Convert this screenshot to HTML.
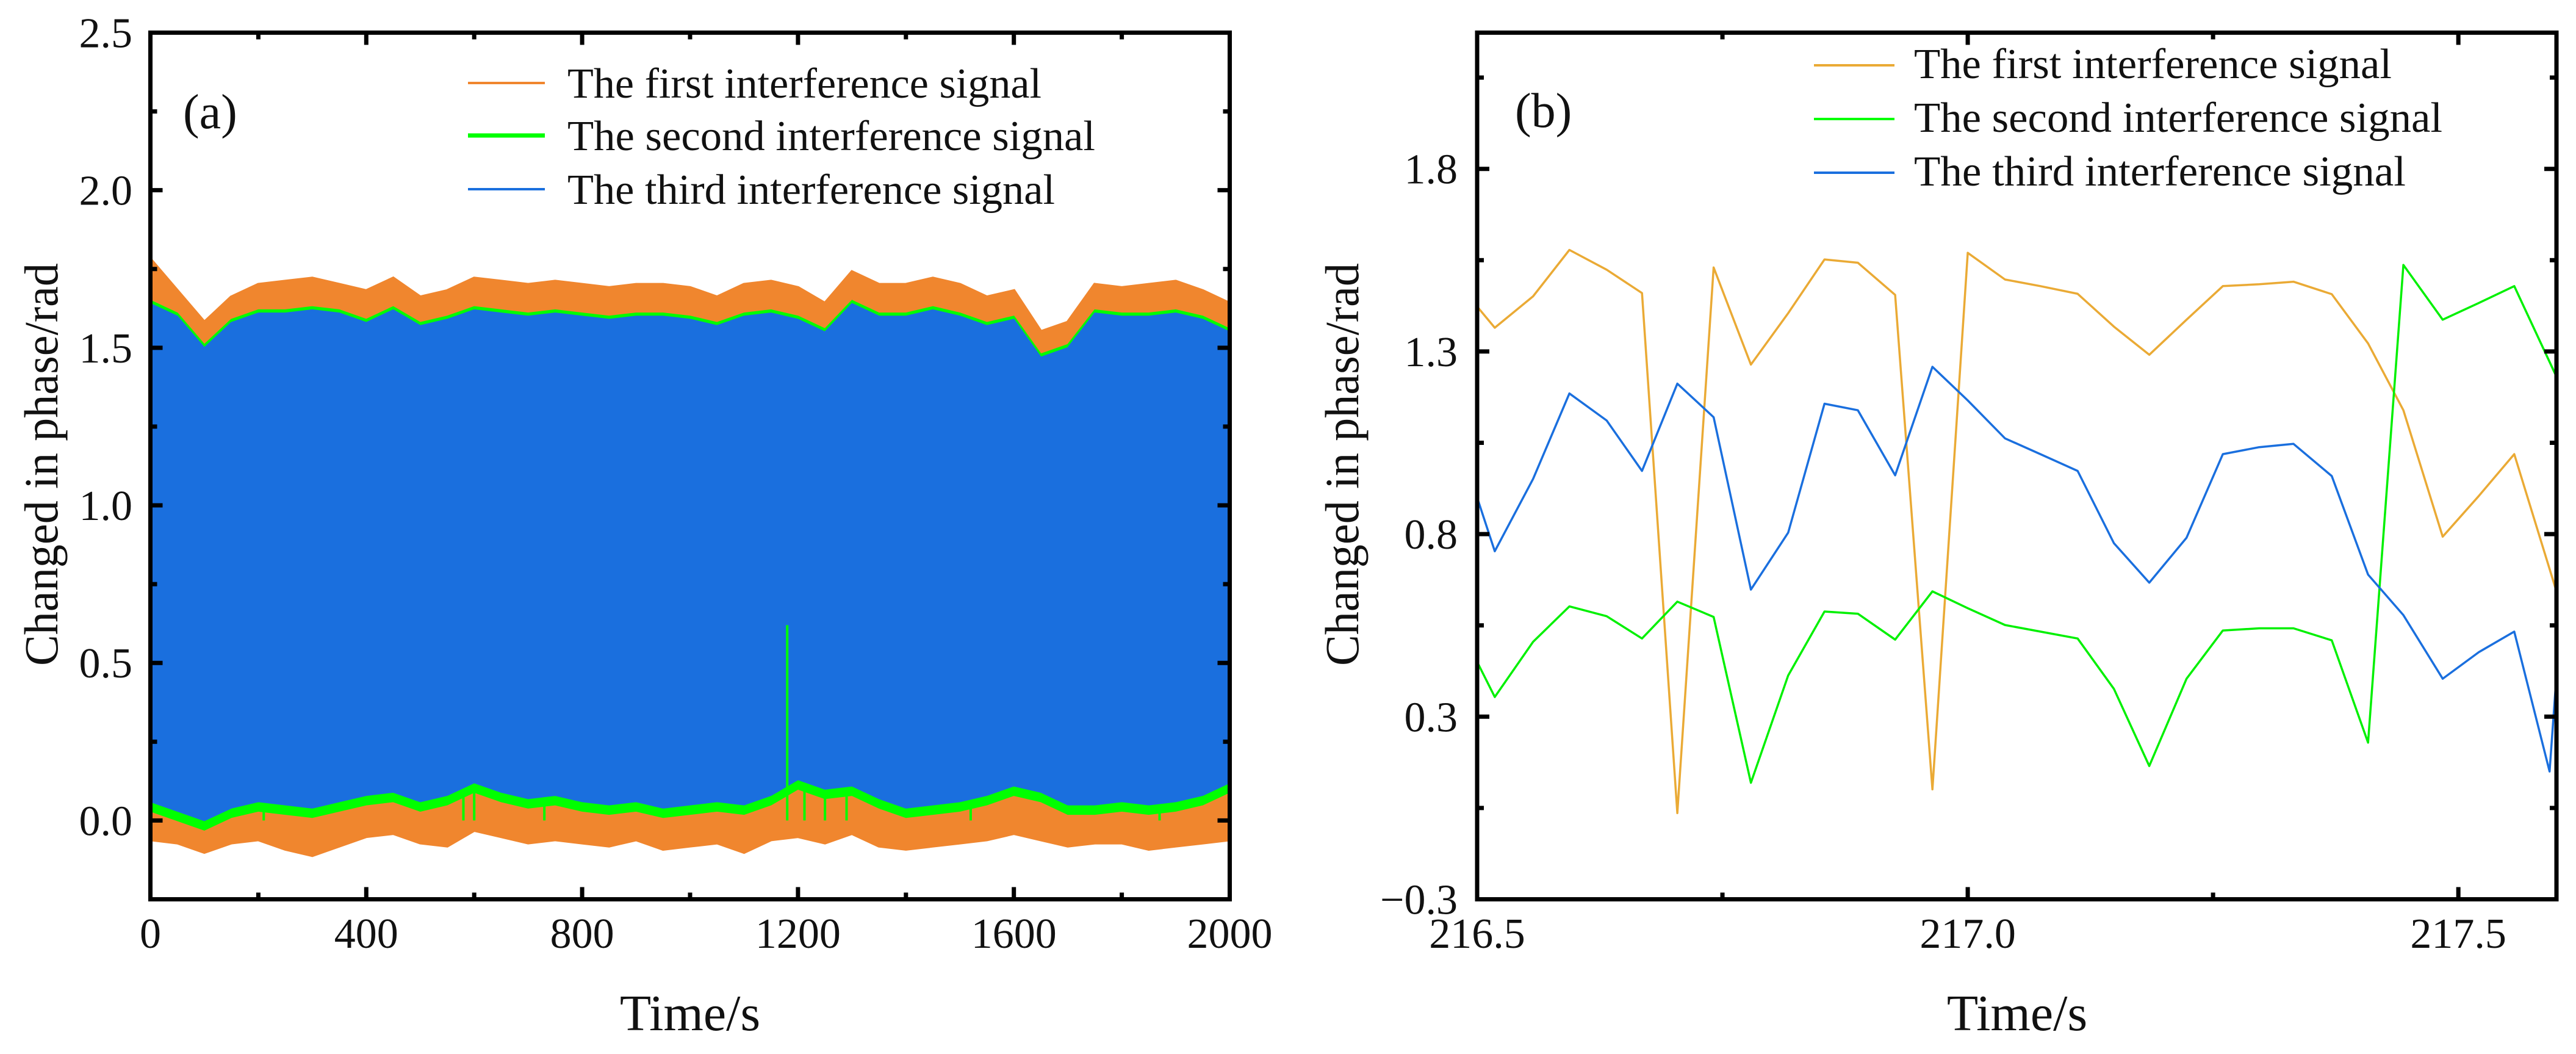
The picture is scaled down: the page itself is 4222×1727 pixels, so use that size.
<!DOCTYPE html>
<html><head><meta charset="utf-8"><style>
html,body{margin:0;padding:0;background:#fff;width:4222px;height:1727px;overflow:hidden}
svg{display:block}
text{font-family:"Liberation Serif",serif;fill:#111}
</style></head><body>
<svg id="fig" width="4222" height="1727" viewBox="0 0 4222 1727" xmlns="http://www.w3.org/2000/svg">
<g id="pa"></g>
<g id="pb"></g>
</svg>
<script>
// ---------- Panel A data (envelopes of dense signals, every 50 s) ----------
const aTimes = [0,50,100,150,200,250,300,350,400,450,500,550,600,650,700,750,800,850,900,950,1000,1050,1100,1150,1200,1250,1300,1350,1400,1450,1500,1550,1600,1650,1700,1750,1800,1850,1900,1950,2000];
const aOrangeUpper = [1.78,1.68,1.58,1.66,1.70,1.71,1.72,1.70,1.68,1.72,1.66,1.68,1.72,1.71,1.70,1.71,1.70,1.69,1.70,1.70,1.69,1.66,1.70,1.71,1.69,1.64,1.74,1.70,1.70,1.72,1.70,1.66,1.68,1.55,1.58,1.70,1.69,1.70,1.71,1.68,1.64];
const aOrangeLower = [-0.06,-0.07,-0.10,-0.07,-0.06,-0.09,-0.11,-0.08,-0.05,-0.04,-0.07,-0.08,-0.03,-0.05,-0.07,-0.06,-0.07,-0.08,-0.06,-0.09,-0.08,-0.07,-0.10,-0.06,-0.05,-0.07,-0.04,-0.08,-0.09,-0.08,-0.07,-0.06,-0.04,-0.06,-0.08,-0.07,-0.07,-0.09,-0.08,-0.07,-0.06];
const aGreenUpper = [1.65,1.61,1.51,1.59,1.62,1.62,1.63,1.62,1.59,1.63,1.58,1.60,1.63,1.62,1.61,1.62,1.61,1.60,1.61,1.61,1.60,1.58,1.61,1.62,1.60,1.56,1.65,1.61,1.61,1.63,1.61,1.58,1.60,1.48,1.51,1.62,1.61,1.61,1.62,1.60,1.56];
const aGreenLower = [0.03,0.00,-0.03,0.01,0.03,0.02,0.01,0.03,0.05,0.06,0.03,0.05,0.09,0.06,0.04,0.05,0.03,0.02,0.03,0.01,0.02,0.03,0.02,0.05,0.10,0.07,0.08,0.04,0.01,0.02,0.03,0.05,0.08,0.06,0.02,0.02,0.03,0.02,0.03,0.05,0.09];
const aBlueUpper = [1.64,1.60,1.50,1.58,1.61,1.61,1.62,1.61,1.58,1.62,1.57,1.59,1.62,1.61,1.60,1.61,1.60,1.59,1.60,1.60,1.59,1.57,1.60,1.61,1.59,1.55,1.64,1.60,1.60,1.62,1.60,1.57,1.59,1.47,1.50,1.61,1.60,1.60,1.61,1.59,1.55];
const aBlueLower = [0.06,0.03,0.00,0.04,0.06,0.05,0.04,0.06,0.08,0.09,0.06,0.08,0.12,0.09,0.07,0.08,0.06,0.05,0.06,0.04,0.05,0.06,0.05,0.08,0.13,0.10,0.11,0.07,0.04,0.05,0.06,0.08,0.11,0.09,0.05,0.05,0.06,0.05,0.06,0.08,0.12];
const aGreenSpikeT = [210,580,600,730,975,1180,1212,1250,1290,1520,1870];
const aGreenSpikeV = [0.18,0.24,0.25,0.23,1.45,0.62,0.26,0.26,0.29,0.20,0.22];
const aXTicks = [0,400,800,1200,1600,2000];
const aXTickLabels = ["0","400","800","1200","1600","2000"];
const aYTicks = [0,0.5,1.0,1.5,2.0,2.5];
const aYTickLabels = ["0.0","0.5","1.0","1.5","2.0","2.5"];

// ---------- Panel B data ----------
const bTimes = [216.5,216.518,216.557,216.594,216.632,216.668,216.704,216.741,216.779,216.817,216.854,216.888,216.926,216.964,217.0,217.038,217.074,217.112,217.149,217.185,217.223,217.260,217.297,217.332,217.371,217.408,217.444,217.484,217.521,217.557,217.6];
const bOrange = [1.423,1.365,1.451,1.578,1.524,1.460,0.036,1.530,1.264,1.405,1.552,1.543,1.455,0.101,1.570,1.497,1.479,1.458,1.368,1.291,1.387,1.479,1.484,1.491,1.457,1.322,1.139,0.793,0.905,1.019,0.643];
const bGreen = [0.450,0.354,0.505,0.602,0.575,0.514,0.615,0.573,0.119,0.413,0.588,0.582,0.511,0.643,0.597,0.551,0.533,0.514,0.376,0.165,0.404,0.536,0.542,0.542,0.509,0.229,1.537,1.387,1.433,1.479,1.231];
const bBlueTimes = [216.5,216.518,216.557,216.594,216.632,216.668,216.704,216.741,216.779,216.817,216.854,216.888,216.926,216.964,217.0,217.038,217.074,217.112,217.149,217.185,217.223,217.260,217.297,217.332,217.371,217.408,217.444,217.484,217.521,217.557,217.593,217.6];
const bBlue = [0.900,0.753,0.951,1.185,1.111,0.973,1.212,1.120,0.648,0.804,1.157,1.139,0.961,1.258,1.166,1.062,1.019,0.973,0.775,0.667,0.790,1.019,1.038,1.047,0.959,0.689,0.578,0.404,0.477,0.533,0.150,0.413];
const bXTicks = [216.5,217.0,217.5];
const bXTickLabels = ["216.5","217.0","217.5"];
const bYTicks = [-0.2,0.3,0.8,1.3,1.8];
const bYTickLabels = ["\u22120.3","0.3","0.8","1.3","1.8"];

const NS = "http://www.w3.org/2000/svg";
function mk(parent, tag, attrs, txt){
  const e = document.createElementNS(NS, tag);
  for (const k in attrs) e.setAttribute(k, attrs[k]);
  if (txt !== undefined) e.textContent = txt;
  parent.appendChild(e);
  return e;
}

// ---------- Panel A ----------
(function(){
  const g = document.getElementById('pa');
  const L=246.5, R=2015.5, T=53.5, B=1473.5;
  const xmin=0, xmax=2000, ymin=-0.25, ymax=2.5;
  const X = v => L + (v - xmin) / (xmax - xmin) * (R - L);
  const Y = v => B - (v - ymin) / (ymax - ymin) * (B - T);
  function band(up, lo, color, name, sw){
    let d = "M" + aTimes.map((t,i)=>X(t).toFixed(1)+","+Y(up[i]).toFixed(1)).join(" L");
    for (let i=aTimes.length-1;i>=0;i--) d += " L"+X(aTimes[i]).toFixed(1)+","+Y(lo[i]).toFixed(1);
    d += " Z";
    const p = mk(g,'path',{d:d, fill:color, stroke:color, 'stroke-width':sw, 'stroke-linejoin':'miter'});
    
    
  }
  band(aOrangeUpper, aOrangeLower, '#F0862E', 'first-signal-band', 6);
  band(aGreenUpper, aGreenLower, '#00FF00', 'second-signal-band', 2);
  aGreenSpikeT.forEach((t,i)=>{
    const base = aGreenSpikeV[i] > 1 ? 1.6 : 0.0;
    const l = mk(g,'line',{x1:X(t),x2:X(t),y1:Y(base),y2:Y(aGreenSpikeV[i]),stroke:'#00FF00','stroke-width':4});
    
    
  });
  band(aBlueUpper, aBlueLower, '#1A6FDE', 'third-signal-band', 2);
  aGreenSpikeT.forEach((t,i)=>{
    if (aGreenSpikeV[i] > 1 || aGreenSpikeV[i] < 0.5) return;
    const l = mk(g,'line',{x1:X(t),x2:X(t),y1:Y(0.1),y2:Y(aGreenSpikeV[i]),stroke:'#00FF00','stroke-width':4});
    
    
  });
  const fr = mk(g,'rect',{x:L,y:T,width:R-L,height:B-T,fill:'none',stroke:'#000','stroke-width':7});
  
  
  for (let v=0; v<=2000; v+=200){
    const len = (v % 400 === 0) ? 20 : 11;
    mk(g,'line',{x1:X(v),x2:X(v),y1:B,y2:B-len,stroke:'#000','stroke-width':7});
    mk(g,'line',{x1:X(v),x2:X(v),y1:T,y2:T+len,stroke:'#000','stroke-width':7});
  }
  aXTicks.forEach((v,i)=>{
    const t = mk(g,'text',{x:X(v),y:1553,'font-size':70,'text-anchor':'middle'},aXTickLabels[i]);
    
    
  });
  for (let v=0; v<=2.5001; v+=0.25){
    const len = (Math.abs(v*2 - Math.round(v*2))<1e-6) ? 20 : 11;
    mk(g,'line',{x1:L,x2:L+len,y1:Y(v),y2:Y(v),stroke:'#000','stroke-width':7});
    mk(g,'line',{x1:R,x2:R-len,y1:Y(v),y2:Y(v),stroke:'#000','stroke-width':7});
  }
  aYTicks.forEach((v,i)=>{
    const t = mk(g,'text',{x:217,y:Y(v)+24,'font-size':70,'text-anchor':'end'},aYTickLabels[i]);
    
    
  });
  const xt = mk(g,'text',{x:1131,y:1688,'font-size':84,'text-anchor':'middle'},'Time/s');
  
  
  const yt = mk(g,'text',{x:0,y:0,'font-size':78,'text-anchor':'middle',transform:'translate(94,761) rotate(-90)',textLength:660,lengthAdjust:'spacingAndGlyphs'},'Changed in phase/rad');
  
  
  const pl = mk(g,'text',{x:300,y:210,'font-size':80},'(a)');
  
  
  const leg = [['The first interference signal','#F0862E',4,777],['The second interference signal','#00FF00',7,865],['The third interference signal','#1A6FDE',4,799]];
  const rows=[136,222,310];
  leg.forEach((e,i)=>{
    const l = mk(g,'line',{x1:767,x2:893,y1:rows[i],y2:rows[i],stroke:e[1],'stroke-width':e[2]});
    
    
    const t = mk(g,'text',{x:930,y:rows[i]+24,'font-size':70,textLength:e[3],lengthAdjust:'spacingAndGlyphs'},e[0]);
    
    
  });
})();

// ---------- Panel B ----------
(function(){
  const g = document.getElementById('pb');
  const L=2421, R=4190, T=53.5, B=1473.5;
  const xmin=216.5, xmax=217.6, ymin=-0.2, ymax=2.173;
  const X = v => L + (v - xmin) / (xmax - xmin) * (R - L);
  const Y = v => B - (v - ymin) / (ymax - ymin) * (B - T);
  const cp = mk(g,'clipPath',{id:'clipb'});
  mk(cp,'rect',{x:L,y:T,width:R-L,height:B-T});
  function series(ts, vs, color, name){
    const pts = ts.map((t,i)=>X(t).toFixed(1)+","+Y(vs[i]).toFixed(1)).join(" ");
    const p = mk(g,'polyline',{points:pts,fill:'none',stroke:color,'stroke-width':3.5,'stroke-linejoin':'round','clip-path':'url(#clipb)'});
    
    
  }
  series(bTimes, bOrange, '#EAAA35', 'first-signal-line');
  series(bTimes, bGreen, '#00F000', 'second-signal-line');
  series(bBlueTimes, bBlue, '#1A6FDE', 'third-signal-line');
  const fr = mk(g,'rect',{x:L,y:T,width:R-L,height:B-T,fill:'none',stroke:'#000','stroke-width':7});
  
  
  for (let k=0; k<=4; k++){
    const v = 216.5 + k*0.25;
    const len = (k%2===0) ? 20 : 11;
    mk(g,'line',{x1:X(v),x2:X(v),y1:B,y2:B-len,stroke:'#000','stroke-width':7});
    mk(g,'line',{x1:X(v),x2:X(v),y1:T,y2:T+len,stroke:'#000','stroke-width':7});
  }
  bXTicks.forEach((v,i)=>{
    const t = mk(g,'text',{x:X(v),y:1553,'font-size':70,'text-anchor':'middle'},bXTickLabels[i]);
    
    
  });
  for (let k=0; k<=17; k++){
    const v = -0.2 + k*0.25;
    if (v > ymax) break;
    const len = (k%2===0) ? 20 : 11;
    mk(g,'line',{x1:L,x2:L+len,y1:Y(v),y2:Y(v),stroke:'#000','stroke-width':7});
    mk(g,'line',{x1:R,x2:R-len,y1:Y(v),y2:Y(v),stroke:'#000','stroke-width':7});
  }
  bYTicks.forEach((v,i)=>{
    const t = mk(g,'text',{x:2389,y:Y(v)+24,'font-size':70,'text-anchor':'end'},bYTickLabels[i]);
    
    
  });
  const xt = mk(g,'text',{x:3306,y:1688,'font-size':84,'text-anchor':'middle'},'Time/s');
  
  
  const yt = mk(g,'text',{x:0,y:0,'font-size':78,'text-anchor':'middle',transform:'translate(2226,761) rotate(-90)',textLength:660,lengthAdjust:'spacingAndGlyphs'},'Changed in phase/rad');
  
  
  const pl = mk(g,'text',{x:2483,y:208,'font-size':80},'(b)');
  
  
  const leg = [['The first interference signal','#EAAA35',783],['The second interference signal','#00FF00',866],['The third interference signal','#1A6FDE',806]];
  const rows=[107,195,283];
  leg.forEach((e,i)=>{
    const l = mk(g,'line',{x1:2973,x2:3105,y1:rows[i],y2:rows[i],stroke:e[1],'stroke-width':4});
    
    
    const t = mk(g,'text',{x:3137,y:rows[i]+21,'font-size':70,textLength:e[2],lengthAdjust:'spacingAndGlyphs'},e[0]);
    
    
  });
})();
</script>
</body></html>
